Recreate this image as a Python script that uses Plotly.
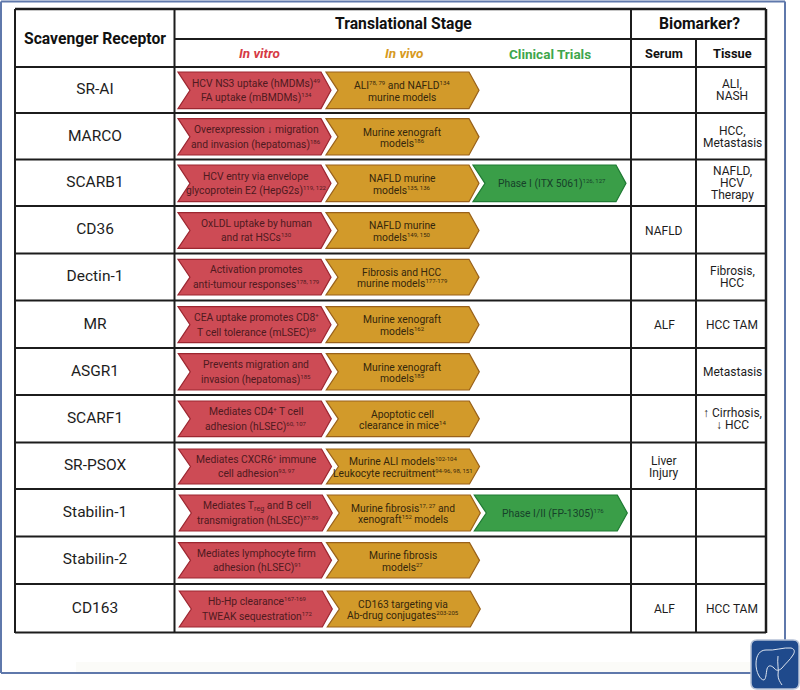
"""Scavenger receptor translational stage table, drawn on a pixel-sized plot area."""
import plotly.graph_objects as go

receptors = ["SR-AI", "MARCO", "SCARB1", "CD36", "Dectin-1", "MR", "ASGR1",
             "SCARF1", "SR-PSOX", "Stabilin-1", "Stabilin-2", "CD163"]

in_vitro = [
    ["HCV NS3 uptake (hMDMs)<sup>49</sup>", "FA uptake (mBMDMs)<sup>134</sup>"],
    ["Overexpression ↓ migration", "and invasion (hepatomas)<sup>186</sup>"],
    ["HCV entry via envelope", "glycoprotein E2 (HepG2s)<sup>119, 122</sup>"],
    ["OxLDL uptake by human", "and rat HSCs<sup>130</sup>"],
    ["Activation promotes", "anti-tumour responses<sup>178, 179</sup>"],
    ["CEA uptake promotes CD8<sup>+</sup>", "T cell tolerance (mLSEC)<sup>69</sup>"],
    ["Prevents migration and", "invasion (hepatomas)<sup>185</sup>"],
    ["Mediates CD4<sup>+</sup> T cell", "adhesion (hLSEC)<sup>60, 107</sup>"],
    ["Mediates CXCR6<sup>+</sup> immune", "cell adhesion<sup>93, 97</sup>"],
    ["Mediates T<sub>reg</sub> and B cell", "transmigration (hLSEC)<sup>87-89</sup>"],
    ["Mediates lymphocyte firm", "adhesion (hLSEC)<sup>91</sup>"],
    ["Hb-Hp clearance<sup>167-169</sup>", "TWEAK sequestration<sup>172</sup>"],
]

in_vivo = [
    ["ALI<sup>78, 79</sup> and NAFLD<sup>134</sup>", "murine models"],
    ["Murine xenograft", "models<sup>186</sup>"],
    ["NAFLD murine", "models<sup>135, 136</sup>"],
    ["NAFLD murine", "models<sup>149, 150</sup>"],
    ["Fibrosis and HCC", "murine models<sup>177-179</sup>"],
    ["Murine xenograft", "models<sup>162</sup>"],
    ["Murine xenograft", "models<sup>185</sup>"],
    ["Apoptotic cell", "clearance in mice<sup>14</sup>"],
    ["Murine ALI models<sup>102-104</sup>", "Leukocyte recruitment<sup>94-96, 98, 151</sup>"],
    ["Murine fibrosis<sup>17, 27</sup> and", "xenograft<sup>152</sup> models"],
    ["Murine fibrosis", "models<sup>27</sup>"],
    ["CD163 targeting via", "Ab-drug conjugates<sup>203-205</sup>"],
]

clinical = {2: "Phase I (ITX 5061)<sup>126, 127</sup>", 9: "Phase I/II (FP-1305)<sup>176</sup>"}

serum = {3: ["NAFLD"], 5: ["ALF"], 8: ["Liver", "Injury"], 11: ["ALF"]}

tissue = {
    0: ["ALI,", "NASH"],
    1: ["HCC,", "Metastasis"],
    2: ["NAFLD,", "HCV", "Therapy"],
    4: ["Fibrosis,", "HCC"],
    5: ["HCC TAM"],
    6: ["Metastasis"],
    7: ["↑ Cirrhosis,", "↓ HCC"],
    11: ["HCC TAM"],
}

# layout in page pixels
row_lines = [67, 113, 159.5, 206, 253.5, 300.5, 348, 395, 442.5, 489, 536.5, 584, 632.5]
arrow_top = [72, 118.7, 165, 212.7, 259.3, 306.7, 353.7, 401, 449, 495, 542.7, 591]
arrow_bot = [108.6, 155, 201.7, 248.3, 295, 342.7, 390, 436.7, 484, 531, 578, 627]
arrow_shift = [0, 0, 0, 0, 0, 0, 0.3, 0.3, 0.5, 1.3, 0.5, 1.3]

RED, RED_EDGE, RED_TEXT = "#cd4b55", "#9c2630", "#4f1a20"
GOLD, GOLD_EDGE, GOLD_TEXT = "#d29a2a", "#99611a", "#35270c"
GREEN, GREEN_EDGE, GREEN_TEXT = "#3a9e48", "#1f7a33", "#17412a"
LINE = "#1c1c1c"
FRAME = "#5f78ab"
FONT = "Roboto"

shapes = []
annotations = []


def add_line(x0, y0, x1, y1, color=LINE, width=2):
    shapes.append(dict(type="line", x0=x0, y0=y0, x1=x1, y1=y1,
                       line=dict(color=color, width=width)))


def add_text(x, y, text, size, color="#1d1d1d"):
    # citations in the source are much smaller than plotly's default <sup>
    text = text.replace("<sup>", '<sup><span style="font-size:6px">').replace("</sup>", "</span></sup>")
    annotations.append(dict(x=x, y=y, text=text, showarrow=False, xanchor="center",
                            yanchor="middle", font=dict(family=FONT, size=size, color=color)))


def add_lines(x, yc, lines, size, gap, color="#1d1d1d"):
    for i, line in enumerate(lines):
        add_text(x, yc + (i - (len(lines) - 1) / 2) * gap, line, size, color)


def add_arrow(x0, x1, top, bot, fill, edge):
    mid = (top + bot) / 2
    path = (f"M {x0} {top} L {x1 - 10} {top} L {x1} {mid} L {x1 - 10} {bot} "
            f"L {x0} {bot} L {x0 + 12} {mid} Z")
    shapes.append(dict(type="path", path=path, fillcolor=fill, line=dict(color=edge, width=1.2)))


# outer frame and faint strip at the bottom
shapes.append(dict(type="rect", x0=76, x1=750, y0=662, y1=672, fillcolor="#fbfbf8", line=dict(width=0)))
add_line(1, 1.5, 785, 1.5, FRAME, 2)
add_line(1, 1.5, 1, 673, FRAME, 2)
add_line(1, 673, 752, 673, FRAME, 2)
add_line(785, 1.5, 785, 642, FRAME, 2)

# table grid
add_line(15, 9, 766, 9, LINE, 2.5)
add_line(175, 39, 766, 39)
add_line(15, 9, 15, 633, LINE, 2)
add_line(174.5, 9, 174.5, 633)
add_line(631, 9, 631, 633)
add_line(696, 39, 696, 633)
add_line(766, 9, 766, 633, LINE, 2.5)
for y in row_lines:
    add_line(15, y, 766, y)

# headers
add_text(95, 38, "<b>Scavenger Receptor</b>", 15.7, "#111111")
add_text(403, 23, "<b>Translational Stage</b>", 15.7, "#111111")
add_text(699, 23, "<b>Biomarker?</b>", 15.7, "#111111")
add_text(664, 53, "<b>Serum</b>", 12.8, "#111111")
add_text(732, 53, "<b>Tissue</b>", 12.8, "#111111")
add_text(259, 53, "<b><i>In vitro</i></b>", 13.5, "#d63a45")
add_text(404, 53, "<b><i>In vivo</i></b>", 13.5, "#d79a22")
add_text(550, 54, "<b>Clinical Trials</b>", 13.5, "#3fa64c")

# arrows and their labels
for i in range(len(receptors)):
    top, bot, dx = arrow_top[i], arrow_bot[i], arrow_shift[i]
    mid = (top + bot) / 2
    add_arrow(178 + dx, 331 + dx, top, bot, RED, RED_EDGE)
    add_arrow(326 + dx, 479 + dx, top, bot, GOLD, GOLD_EDGE)
    add_lines(256 + dx, mid, in_vitro[i], 10.3, 14.6, RED_TEXT)
    add_lines(402 + dx, mid + 1, in_vivo[i], 10.3, 11.5, GOLD_TEXT)
    if i in clinical:
        add_arrow(473 + dx, 626 + dx, top, bot, GREEN, GREEN_EDGE)
        add_text(552 + dx, mid, clinical[i], 10.3, GREEN_TEXT)
    if i in serum:
        add_lines(664, mid, serum[i], 12, 12)
    if i in tissue:
        add_lines(732, mid, tissue[i], 12, 12)

# journal logo, bottom right
shapes.append(dict(type="path",
                   path="M 757 640 L 793 640 Q 799 640 799 646 L 799 683 Q 799 689 793 689 "
                        "L 757 689 Q 751 689 751 683 L 751 646 Q 751 640 757 640 Z",
                   fillcolor="#1f4a8c", line=dict(color="#b5c1d6", width=1.5)))
shapes.append(dict(type="path",
                   path="M 756 664 C 756 655 760 650 766 650 C 774 651 784 647 791 648 "
                        "C 795 649 795 652 793 655 C 790 660 785 664 782 668 "
                        "C 779 671 776 671 774 668 C 771 665 768 665 767 669 "
                        "C 766 674 766 679 764 680 C 760 680 756 672 756 664 Z",
                   fillcolor="rgba(0,0,0,0)", line=dict(color="#dfe6f0", width=1)))
shapes.append(dict(type="path",
                   path="M 778 656 C 777 663 779 670 778 675 C 778 679 780 682 782 685",
                   line=dict(color="#dfe6f0", width=1)))

fig = go.Figure()
fig.add_trace(go.Scatter(
    x=[95] * len(receptors),
    y=[(t + b) / 2 for t, b in zip(arrow_top, arrow_bot)],
    text=receptors,
    mode="text",
    textfont=dict(family=FONT, size=15.5, color="#1d1d1d"),
    hoverinfo="text",
    showlegend=False,
))
fig.update_layout(
    width=800,
    height=690,
    margin=dict(l=0, r=0, t=0, b=0),
    plot_bgcolor="white",
    paper_bgcolor="white",
    xaxis=dict(range=[0, 800], visible=False),
    yaxis=dict(range=[690, 0], visible=False),
    shapes=shapes,
    annotations=annotations,
)
fig.write_html("out.html", config=dict(displayModeBar=False),
               post_script="document.body.style.margin='0';document.body.style.overflow='hidden';")
